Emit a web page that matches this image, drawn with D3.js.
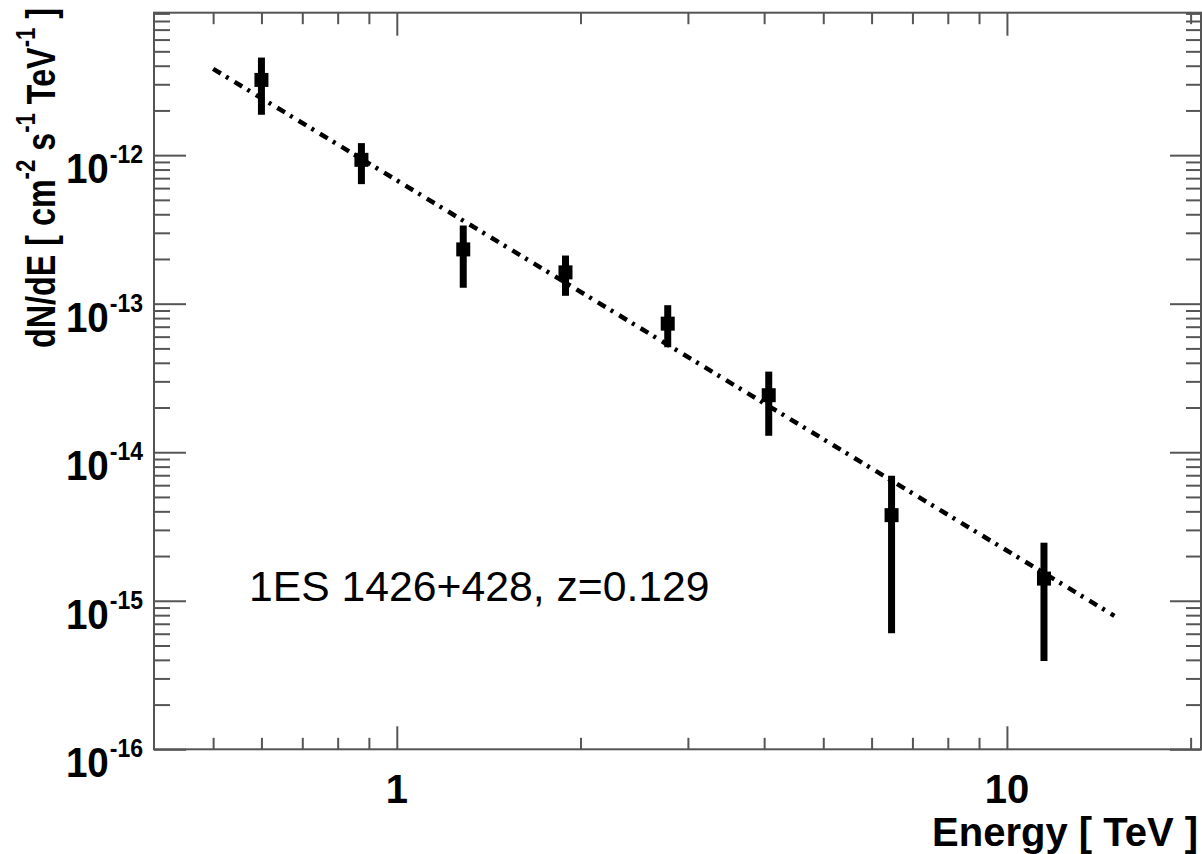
<!DOCTYPE html>
<html>
<head>
<meta charset="utf-8">
<script src="https://cdn.jsdelivr.net/npm/d3@7/dist/d3.min.js"></script>
<style>
  html, body { margin: 0; padding: 0; background: #fff; }
  svg { display: block; }
  text { font-family: "Liberation Sans", Arial, Helvetica, sans-serif; fill: #000; }
</style>
</head>
<body>
<svg id="chart" width="1202" height="854"></svg>
<script>
// Differential spectrum of 1ES 1426+428 (energy in TeV, flux in cm^-2 s^-1 TeV^-1)
const energy  = [0.60, 0.875, 1.285, 1.89, 2.78, 4.07, 6.47, 11.5];
const flux    = [3.21e-12, 9.30e-13, 2.32e-13, 1.625e-13, 7.34e-14, 2.42e-14, 3.77e-15, 1.41e-15];
const fluxHi  = [4.54e-12, 1.205e-12, 3.36e-13, 2.11e-13, 9.77e-14, 3.49e-14, 6.95e-15, 2.46e-15];
const fluxLo  = [1.87e-12, 6.38e-13, 1.28e-13, 1.13e-13, 5.09e-14, 1.29e-14, 6.04e-16, 3.93e-16];

// Power-law fit, given by its two end points
const fitEnergy = [0.5, 15];
const fitFlux   = [3.81e-12, 7.92e-16];

// Axis ranges and ticks
const xDomain = [0.4, 20.8];
const yDomain = [1e-16, 9.1e-12];
const xMajorTicks = [1, 10];
const xTickLabels = ["1", "10"];
const xMinorTicks = [0.5, 0.6, 0.7, 0.8, 0.9, 2, 3, 4, 5, 6, 7, 8, 9, 20];
const yExponents = [-12, -13, -14, -15, -16];
const yMantissas = [2, 3, 4, 5, 6, 7, 8, 9];

const sourceLabel = "1ES 1426+428, z=0.129";

const svg = d3.select("#chart");
const frame = { left: 154, right: 1201, top: 12.7, bottom: 749.3 };

const x = d3.scaleLog().domain(xDomain).range([frame.left, frame.right]);
const y = d3.scaleLog().domain(yDomain).range([frame.bottom, frame.top]);

const yMajorTicks = yExponents.map(e => Math.pow(10, e));
const yMinorTicks = [];
yExponents.forEach(e => yMantissas.forEach(m => {
  const v = m * Math.pow(10, e);
  if (v > yDomain[0] && v < yDomain[1]) yMinorTicks.push(v);
}));

const axisColor = "#555";

// Tick marks on all four sides, pointing into the frame
function tickGroup(axisFn, scale, values, size, transform) {
  const g = svg.append("g")
    .attr("transform", transform)
    .call(axisFn(scale).tickValues(values).tickSizeInner(-size).tickSizeOuter(0).tickFormat(""));
  g.select(".domain").remove();
  g.selectAll(".tick line").attr("stroke", axisColor).attr("stroke-width", 2);
  return g;
}
tickGroup(d3.axisBottom, x, xMajorTicks, 23, `translate(0,${frame.bottom})`);
tickGroup(d3.axisBottom, x, xMinorTicks, 11.5, `translate(0,${frame.bottom})`);
tickGroup(d3.axisTop, x, xMajorTicks, 23, `translate(0,${frame.top})`);
tickGroup(d3.axisTop, x, xMinorTicks, 11.5, `translate(0,${frame.top})`);
tickGroup(d3.axisLeft, y, yMajorTicks, 32, `translate(${frame.left},0)`);
tickGroup(d3.axisLeft, y, yMinorTicks, 16, `translate(${frame.left},0)`);
tickGroup(d3.axisRight, y, yMajorTicks, 31, `translate(${frame.right},0)`);
tickGroup(d3.axisRight, y, yMinorTicks, 15, `translate(${frame.right},0)`);

// Frame
svg.append("rect")
  .attr("x", frame.left).attr("y", frame.top)
  .attr("width", frame.right - frame.left).attr("height", frame.bottom - frame.top)
  .attr("fill", "none").attr("stroke", axisColor).attr("stroke-width", 2);

// X tick labels
svg.append("g").selectAll("text")
  .data(xMajorTicks)
  .join("text")
  .attr("x", d => x(d))
  .attr("y", 803)
  .attr("text-anchor", "middle")
  .attr("font-size", 40)
  .attr("font-weight", "bold")
  .text((d, i) => xTickLabels[i]);

// Y tick labels as 10^n (slightly condensed)
const yLab = svg.append("g").selectAll("text")
  .data(yExponents)
  .join("text")
  .attr("transform", e => `translate(143,${y(Math.pow(10, e)) + 28}) scale(0.92,1)`)
  .attr("text-anchor", "end")
  .attr("font-weight", "bold");
yLab.append("tspan").attr("font-size", 42).text("10");
yLab.append("tspan").attr("font-size", 25).attr("dy", -20).attr("dx", 1).text(e => String(e));

// Axis titles
svg.append("text")
  .attr("x", 1198).attr("y", 846)
  .attr("text-anchor", "end")
  .attr("font-size", 40)
  .attr("font-weight", "bold")
  .text("Energy [ TeV ]");

const yTitle = svg.append("text")
  .attr("transform", "translate(55,8) rotate(-90) scale(0.85,1.05)")
  .attr("text-anchor", "end")
  .attr("font-size", 38)
  .attr("font-weight", "bold");
yTitle.append("tspan").text("dN/dE  [ cm");
yTitle.append("tspan").attr("font-size", 26).attr("dy", -19).text("-2");
yTitle.append("tspan").attr("dy", 19).text(" s");
yTitle.append("tspan").attr("font-size", 26).attr("dy", -19).text("-1");
yTitle.append("tspan").attr("dy", 19).text(" TeV");
yTitle.append("tspan").attr("font-size", 26).attr("dy", -19).text("-1");
yTitle.append("tspan").attr("dy", 19).text(" ]");

// Power-law fit (dash-dot)
svg.append("path")
  .datum(fitEnergy.map((e, i) => [e, fitFlux[i]]))
  .attr("d", d3.line().x(d => x(d[0])).y(d => y(d[1])))
  .attr("fill", "none")
  .attr("stroke", "#000")
  .attr("stroke-width", 4.5)
  .attr("stroke-dasharray", "9,6,3,7");

// Data points: error bars and square markers
const pts = energy.map((e, i) => ({ e, f: flux[i], hi: fluxHi[i], lo: fluxLo[i] }));
svg.append("g").selectAll("line")
  .data(pts)
  .join("line")
  .attr("x1", d => x(d.e)).attr("x2", d => x(d.e))
  .attr("y1", d => y(d.hi)).attr("y2", d => y(d.lo))
  .attr("stroke", "#000").attr("stroke-width", 7);
svg.append("g").selectAll("rect")
  .data(pts)
  .join("rect")
  .attr("x", d => x(d.e) - 7).attr("y", d => y(d.f) - 7)
  .attr("width", 14).attr("height", 14)
  .attr("fill", "#000");

// Source annotation
svg.append("text")
  .attr("x", 249).attr("y", 600.5)
  .attr("font-size", 42.7)
  .text(sourceLabel);
</script>
</body>
</html>
